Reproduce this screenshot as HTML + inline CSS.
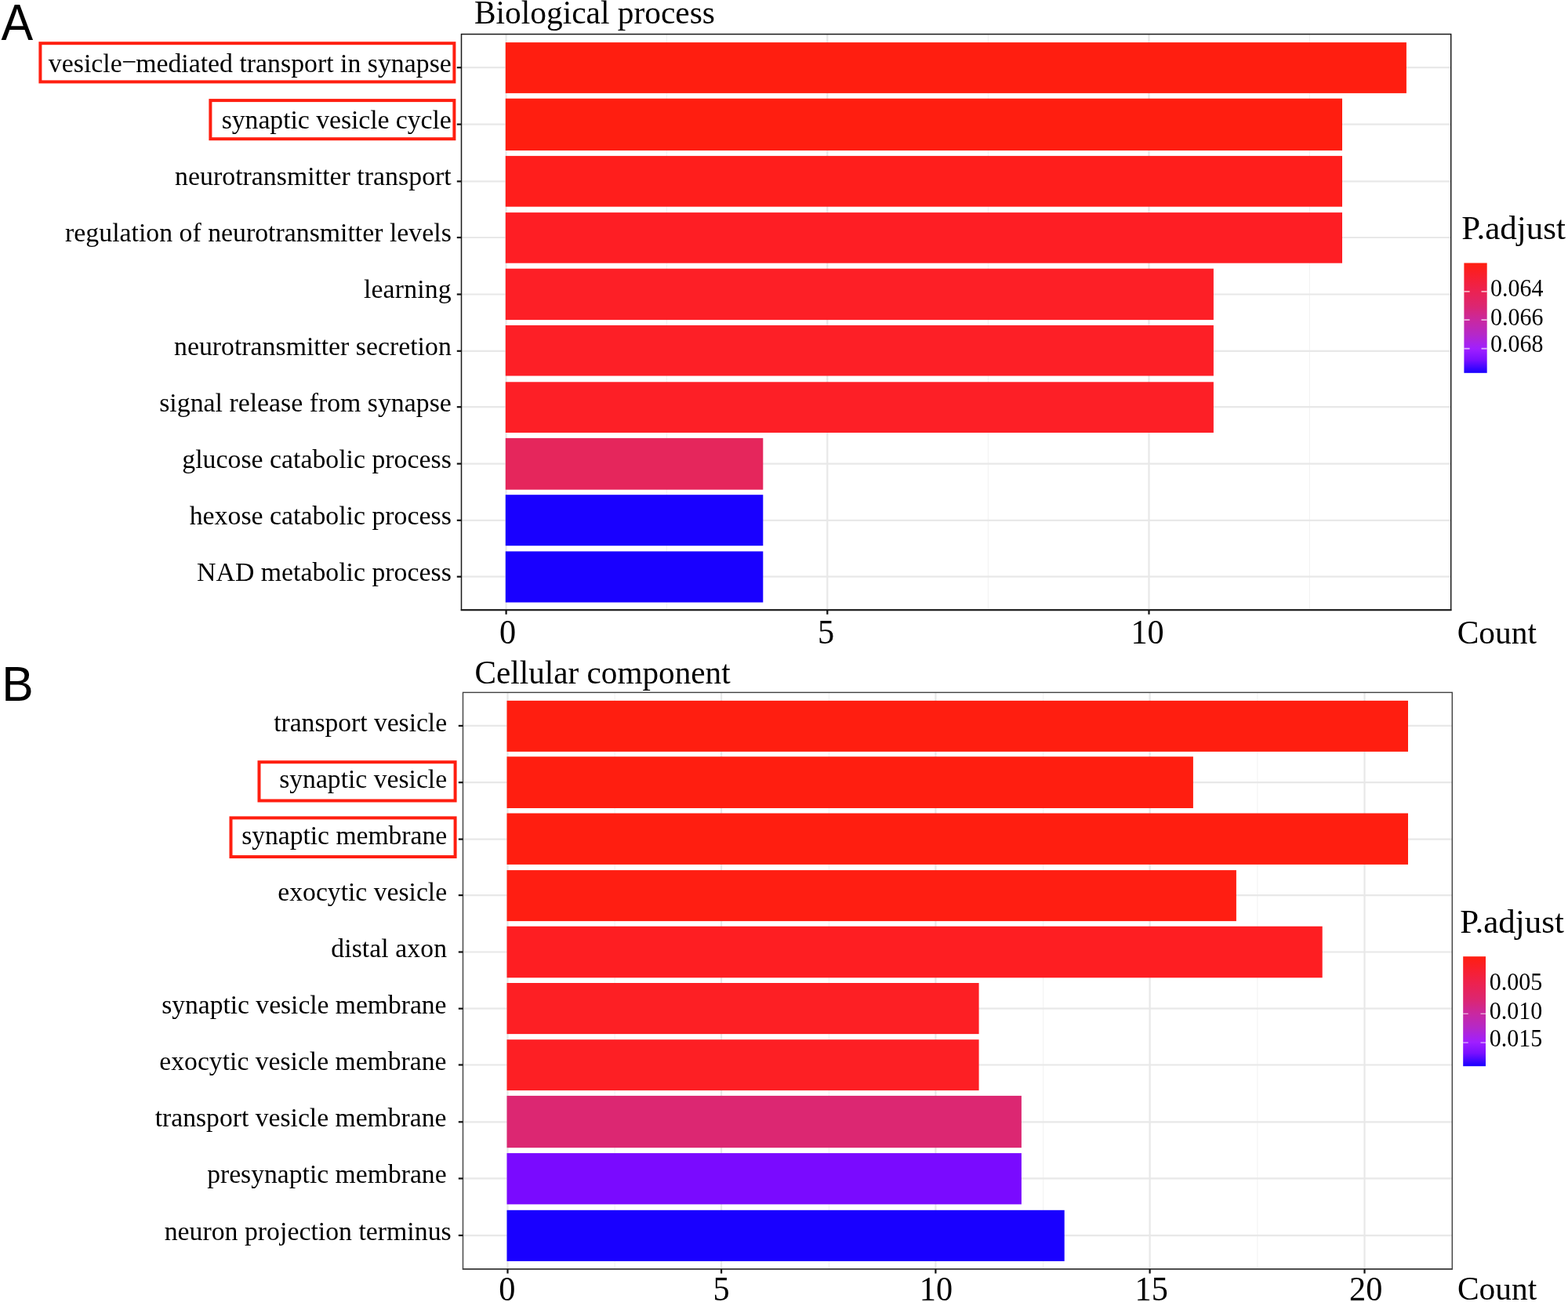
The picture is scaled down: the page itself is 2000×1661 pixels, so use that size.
<!DOCTYPE html>
<html lang="en"><head><meta charset="utf-8"><title>GO enrichment bar charts</title>
<style>
html,body{margin:0;padding:0;background:#fff}
body{width:2000px;height:1661px;overflow:hidden}
svg{display:block;font-family:"Liberation Serif",serif}
text{fill:#000}
.tags text{font-family:"Liberation Sans",sans-serif}
.grid-major line{stroke:#e8e8e8;stroke-width:2.2}
.grid-minor line{stroke:#f3f3f3;stroke-width:1.1}
.border{fill:none}
.ticks line{stroke:#111;stroke-width:2.2}
.hl rect{fill:none;stroke:#ff1e10;stroke-width:4}
.lticks line{stroke:#fff;stroke-opacity:.65}
</style></head>
<body>
<svg width="2000" height="1661" viewBox="0 0 2000 1661">
<defs><linearGradient id="g" x1="0" y1="0" x2="0" y2="1"><stop offset="0" stop-color="#ff1e10"/><stop offset="0.12" stop-color="#f81f2f"/><stop offset="0.25" stop-color="#ec2250"/><stop offset="0.4" stop-color="#db2673"/><stop offset="0.52" stop-color="#c928a0"/><stop offset="0.65" stop-color="#b528c8"/><stop offset="0.78" stop-color="#a01fff"/><stop offset="0.88" stop-color="#7a10ff"/><stop offset="1" stop-color="#1900ff"/></linearGradient></defs>
<rect width="2000" height="1661" fill="#fff"/>
<g class="panel">
<g class="grid-minor">
<line x1="850.4" y1="43.6" x2="850.4" y2="778.2"/>
<line x1="1260.4" y1="43.6" x2="1260.4" y2="778.2"/>
<line x1="1670.4" y1="43.6" x2="1670.4" y2="778.2"/>
</g><g class="grid-major">
<line x1="645.6" y1="43.6" x2="645.6" y2="778.2"/>
<line x1="1055.3" y1="43.6" x2="1055.3" y2="778.2"/>
<line x1="1465.5" y1="43.6" x2="1465.5" y2="778.2"/>
<line x1="588.5" y1="86.2" x2="1850.7" y2="86.2"/>
<line x1="588.5" y1="158.6" x2="1850.7" y2="158.6"/>
<line x1="588.5" y1="231.4" x2="1850.7" y2="231.4"/>
<line x1="588.5" y1="303" x2="1850.7" y2="303"/>
<line x1="588.5" y1="375.5" x2="1850.7" y2="375.5"/>
<line x1="588.5" y1="447.8" x2="1850.7" y2="447.8"/>
<line x1="588.5" y1="519.2" x2="1850.7" y2="519.2"/>
<line x1="588.5" y1="591.6" x2="1850.7" y2="591.6"/>
<line x1="588.5" y1="663.8" x2="1850.7" y2="663.8"/>
<line x1="588.5" y1="735.7" x2="1850.7" y2="735.7"/>
</g><g class="bars">
<rect x="644.8" y="54.1" width="1149.1" height="64.8" fill="#ff1e10"/>
<rect x="644.8" y="125.7" width="1067.2" height="66.3" fill="#ff1e10"/>
<rect x="644.8" y="198.9" width="1067.2" height="64.8" fill="#ff1e1c"/>
<rect x="644.8" y="271.1" width="1067.2" height="64.6" fill="#fe1e24"/>
<rect x="644.8" y="342.7" width="903.1" height="65.4" fill="#fd1f26"/>
<rect x="644.8" y="415" width="903.1" height="64.5" fill="#fd1f26"/>
<rect x="644.8" y="487.3" width="903.1" height="64.7" fill="#fd1f26"/>
<rect x="644.8" y="558.9" width="328.5" height="65.8" fill="#e5265c"/>
<rect x="644.8" y="631.2" width="328.5" height="65" fill="#1900ff"/>
<rect x="644.8" y="703.4" width="328.5" height="65.1" fill="#1900ff"/>
</g>
<rect class="border" x="588.5" y="43.6" width="1262.2" height="734.6" stroke="#1a1a1a" stroke-width="1.5"/>
<line x1="587.75" y1="778.2" x2="1851.45" y2="778.2" stroke="#1a1a1a" stroke-width="1.9"/>
<g class="ticks">
<line x1="582.8" y1="86.2" x2="588.5" y2="86.2"/>
<line x1="582.8" y1="158.6" x2="588.5" y2="158.6"/>
<line x1="582.8" y1="231.4" x2="588.5" y2="231.4"/>
<line x1="582.8" y1="303" x2="588.5" y2="303"/>
<line x1="582.8" y1="375.5" x2="588.5" y2="375.5"/>
<line x1="582.8" y1="447.8" x2="588.5" y2="447.8"/>
<line x1="582.8" y1="519.2" x2="588.5" y2="519.2"/>
<line x1="582.8" y1="591.6" x2="588.5" y2="591.6"/>
<line x1="582.8" y1="663.8" x2="588.5" y2="663.8"/>
<line x1="582.8" y1="735.7" x2="588.5" y2="735.7"/>
<line x1="645.6" y1="778.2" x2="645.6" y2="783.8"/>
<line x1="1055.3" y1="778.2" x2="1055.3" y2="783.8"/>
<line x1="1465.5" y1="778.2" x2="1465.5" y2="783.8"/>
</g><g class="xlabels">
<text transform="translate(647.5 821.3) scale(1 1.04)" font-size="42.3" text-anchor="middle">0</text>
<text transform="translate(1053.45 821.3) scale(1 1.04)" font-size="42.3" text-anchor="middle">5</text>
<text transform="translate(1463.6 821.3) scale(1 1.04)" font-size="42.3" text-anchor="middle">10</text>
</g><g class="ylabels">
<text x="575.8" y="91.8" font-size="33.8" text-anchor="end">vesicle<tspan dx="-0.8" dy="-1.4">−</tspan><tspan dx="-0.8" dy="1.4">mediated transport in synapse</tspan></text>
<text x="575.8" y="163.95" font-size="33.8" text-anchor="end" letter-spacing="-0.071">synaptic vesicle cycle</text>
<text x="575.8" y="236.1" font-size="33.8" text-anchor="end" letter-spacing="0.032">neurotransmitter transport</text>
<text x="575.8" y="308.25" font-size="33.8" text-anchor="end">regulation of neurotransmitter levels</text>
<text x="575.8" y="380.4" font-size="33.8" text-anchor="end" letter-spacing="0.143">learning</text>
<text x="575.8" y="452.55" font-size="33.8" text-anchor="end">neurotransmitter secretion</text>
<text x="575.8" y="524.7" font-size="33.8" text-anchor="end">signal release from synapse</text>
<text x="575.8" y="596.85" font-size="33.8" text-anchor="end">glucose catabolic process</text>
<text x="575.8" y="669" font-size="33.8" text-anchor="end">hexose catabolic process</text>
<text x="575.8" y="741.15" font-size="33.8" text-anchor="end">NAD metabolic process</text>
</g><g class="hl">
<rect x="51.4" y="55.2" width="528" height="49.2"/>
<rect x="268.4" y="128.1" width="311" height="49.1"/>
</g>
<text class="ptitle" x="605" y="30.2" font-size="41.4">Biological process</text>
<text class="axtitle" transform="translate(1858.7 821) scale(0.996 1.03)" font-size="41.6">Count</text>
</g>
<g class="legend">
<text transform="translate(1864.3 305) scale(1.034 1)" font-size="41.6">P.adjust</text>
<rect x="1867.4" y="335.5" width="29.3" height="140.3" fill="url(#g)"/>
<g class="lticks" stroke-width="1.8">
<line x1="1867.4" y1="371.9" x2="1874.6" y2="371.9"/>
<line x1="1889.5" y1="371.9" x2="1896.7" y2="371.9"/>
<line x1="1867.4" y1="408.1" x2="1874.6" y2="408.1"/>
<line x1="1889.5" y1="408.1" x2="1896.7" y2="408.1"/>
<line x1="1867.4" y1="444.7" x2="1874.6" y2="444.7"/>
<line x1="1889.5" y1="444.7" x2="1896.7" y2="444.7"/>
</g>
<text transform="translate(1900.9 377.6) scale(1 1.05)" font-size="30">0.064</text>
<text transform="translate(1900.9 414.8) scale(1 1.05)" font-size="30">0.066</text>
<text transform="translate(1900.9 449.2) scale(1 1.05)" font-size="30">0.068</text>
</g>
<g class="panel">
<g class="grid-minor">
<line x1="784.12" y1="883.4" x2="784.12" y2="1619"/>
<line x1="1057.38" y1="883.4" x2="1057.38" y2="1619"/>
<line x1="1330.62" y1="883.4" x2="1330.62" y2="1619"/>
<line x1="1603.88" y1="883.4" x2="1603.88" y2="1619"/>
</g><g class="grid-major">
<line x1="647.5" y1="883.4" x2="647.5" y2="1619"/>
<line x1="920.1" y1="883.4" x2="920.1" y2="1619"/>
<line x1="1193.4" y1="883.4" x2="1193.4" y2="1619"/>
<line x1="1466.6" y1="883.4" x2="1466.6" y2="1619"/>
<line x1="1740.5" y1="883.4" x2="1740.5" y2="1619"/>
<line x1="590.5" y1="925.9" x2="1852.3" y2="925.9"/>
<line x1="590.5" y1="998.2" x2="1852.3" y2="998.2"/>
<line x1="590.5" y1="1070.6" x2="1852.3" y2="1070.6"/>
<line x1="590.5" y1="1142.1" x2="1852.3" y2="1142.1"/>
<line x1="590.5" y1="1214.5" x2="1852.3" y2="1214.5"/>
<line x1="590.5" y1="1286.7" x2="1852.3" y2="1286.7"/>
<line x1="590.5" y1="1358.5" x2="1852.3" y2="1358.5"/>
<line x1="590.5" y1="1431.3" x2="1852.3" y2="1431.3"/>
<line x1="590.5" y1="1503.45" x2="1852.3" y2="1503.45"/>
<line x1="590.5" y1="1576.05" x2="1852.3" y2="1576.05"/>
</g><g class="bars">
<rect x="646.5" y="893.85" width="1149.5" height="65.05" fill="#ff1e10"/>
<rect x="646.5" y="965.25" width="875.4" height="65.75" fill="#ff1e10"/>
<rect x="646.5" y="1037.5" width="1149.5" height="65.4" fill="#ff1e10"/>
<rect x="646.5" y="1110.1" width="930.4" height="65" fill="#ff1e12"/>
<rect x="646.5" y="1181.75" width="1040.2" height="65.55" fill="#fe1e22"/>
<rect x="646.5" y="1254" width="602.1" height="65.1" fill="#fd1f24"/>
<rect x="646.5" y="1326.2" width="602.1" height="64.9" fill="#fd1f24"/>
<rect x="646.5" y="1397.9" width="656.4" height="66.3" fill="#dc2772"/>
<rect x="646.5" y="1471.1" width="656.4" height="65.3" fill="#7a0aff"/>
<rect x="646.5" y="1543.8" width="711.2" height="65.1" fill="#1900ff"/>
</g>
<rect class="border" x="590.5" y="883.4" width="1261.8" height="735.6" stroke="#404040" stroke-width="1.4"/>
<line x1="589.8" y1="1619" x2="1853" y2="1619" stroke="#404040" stroke-width="1.6"/>
<g class="ticks">
<line x1="584.8" y1="925.9" x2="590.5" y2="925.9"/>
<line x1="584.8" y1="998.2" x2="590.5" y2="998.2"/>
<line x1="584.8" y1="1070.6" x2="590.5" y2="1070.6"/>
<line x1="584.8" y1="1142.1" x2="590.5" y2="1142.1"/>
<line x1="584.8" y1="1214.5" x2="590.5" y2="1214.5"/>
<line x1="584.8" y1="1286.7" x2="590.5" y2="1286.7"/>
<line x1="584.8" y1="1358.5" x2="590.5" y2="1358.5"/>
<line x1="584.8" y1="1431.3" x2="590.5" y2="1431.3"/>
<line x1="584.8" y1="1503.45" x2="590.5" y2="1503.45"/>
<line x1="584.8" y1="1576.05" x2="590.5" y2="1576.05"/>
<line x1="647.5" y1="1619" x2="647.5" y2="1624.6"/>
<line x1="920.1" y1="1619" x2="920.1" y2="1624.6"/>
<line x1="1193.4" y1="1619" x2="1193.4" y2="1624.6"/>
<line x1="1466.6" y1="1619" x2="1466.6" y2="1624.6"/>
<line x1="1740.5" y1="1619" x2="1740.5" y2="1624.6"/>
</g><g class="xlabels">
<text transform="translate(646.75 1658.5) scale(1 1.04)" font-size="42.3" text-anchor="middle">0</text>
<text transform="translate(919.95 1658.5) scale(1 1.04)" font-size="42.3" text-anchor="middle">5</text>
<text transform="translate(1193.9 1658.5) scale(1 1.04)" font-size="42.3" text-anchor="middle">10</text>
<text transform="translate(1468.65 1658.5) scale(1 1.04)" font-size="42.3" text-anchor="middle">15</text>
<text transform="translate(1742.2 1658.5) scale(1 1.04)" font-size="42.3" text-anchor="middle">20</text>
</g><g class="ylabels">
<text x="570.1" y="932.5" font-size="33.65" text-anchor="end" letter-spacing="-0.031">transport vesicle</text>
<text x="570.1" y="1005" font-size="33.65" text-anchor="end">synaptic vesicle</text>
<text x="570.1" y="1077.4" font-size="33.65" text-anchor="end" letter-spacing="-0.034">synaptic membrane</text>
<text x="570.1" y="1148.9" font-size="33.65" text-anchor="end">exocytic vesicle</text>
<text x="570.1" y="1221.3" font-size="33.65" text-anchor="end" letter-spacing="0.100">distal axon</text>
<text x="569.5" y="1292.9" font-size="33.65" text-anchor="end" letter-spacing="-0.040">synaptic vesicle membrane</text>
<text x="569.5" y="1365" font-size="33.65" text-anchor="end">exocytic vesicle membrane</text>
<text x="569.5" y="1437.3" font-size="33.65" text-anchor="end">transport vesicle membrane</text>
<text x="569.6" y="1508.7" font-size="33.65" text-anchor="end">presynaptic membrane</text>
<text x="575.7" y="1581.6" font-size="33.8" text-anchor="end">neuron projection terminus</text>
</g><g class="hl">
<rect x="330.5" y="972.2" width="250.1" height="49.25"/>
<rect x="294.5" y="1043.4" width="286.1" height="49.65"/>
</g>
<text class="ptitle" x="605.6" y="872" font-size="41.2">Cellular component</text>
<text class="axtitle" transform="translate(1858.9 1657.9) scale(0.996 1.03)" font-size="41.6">Count</text>
</g>
<g class="legend">
<text transform="translate(1862.3 1189.7) scale(1.034 1)" font-size="41.6">P.adjust</text>
<rect x="1866.2" y="1220.2" width="28.8" height="140" fill="url(#g)"/>
<g class="lticks" stroke-width="1.3">
<line x1="1866.2" y1="1293.3" x2="1872.7" y2="1293.3"/>
<line x1="1888.5" y1="1293.3" x2="1895" y2="1293.3"/>
<line x1="1866.2" y1="1330.1" x2="1872.7" y2="1330.1"/>
<line x1="1888.5" y1="1330.1" x2="1895" y2="1330.1"/>
</g>
<text transform="translate(1899.7 1262.7) scale(1 1.05)" font-size="30">0.005</text>
<text transform="translate(1899.7 1299.9) scale(1 1.05)" font-size="30">0.010</text>
<text transform="translate(1899.7 1334.9) scale(1 1.05)" font-size="30">0.015</text>
</g>
<g class="tags">
<text transform="translate(1.5 51.3) scale(1 1.065)" font-size="61">A</text>
<text transform="translate(2.3 893.6) scale(0.994 1.03)" font-size="61">B</text>
</g>
</svg>
</body></html>
